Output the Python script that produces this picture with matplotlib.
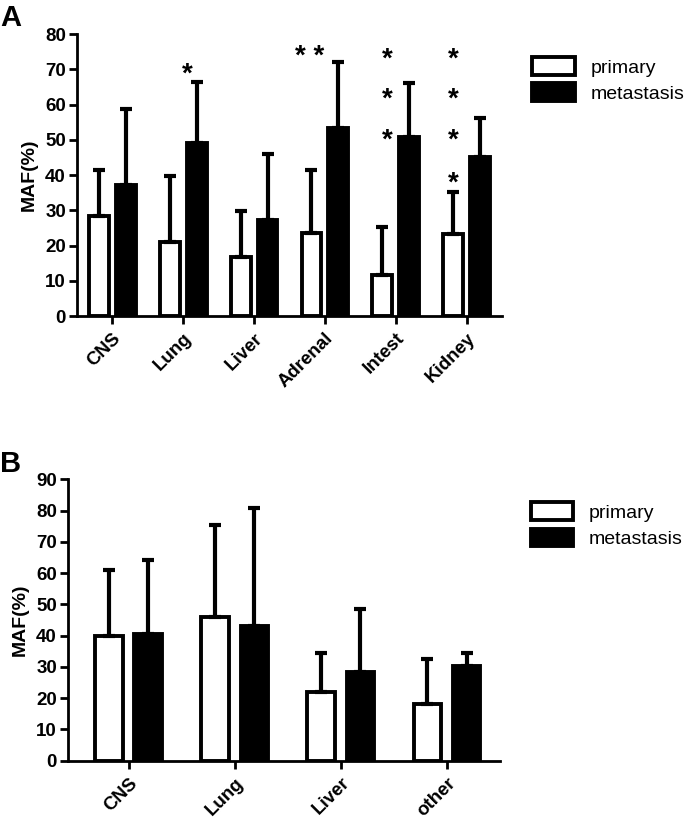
import matplotlib
matplotlib.use('Agg')
import matplotlib.pyplot as plt
import numpy as np

plt.rcParams['font.family'] = ['Liberation Sans', 'DejaVu Sans']

# panel A
cats_a = ['CNS', 'Lung', 'Liver', 'Adrenal', 'Intest', 'Kidney']
prim_a = [28.4, 21.1, 16.7, 23.5, 11.6, 23.2]
prim_a_err = [13.0, 18.7, 13.2, 17.9, 13.7, 12.1]
meta_a = [37.2, 49.2, 27.2, 53.2, 50.9, 45.2]
meta_a_err = [21.4, 17.1, 18.9, 18.8, 15.3, 11.1]
# significance marks: (category index, bar offset, y value, text)
stars_a = [(1, 0.06, 68.5, '*'), (3, -0.21, 73.5, '* *'),
           (4, -0.12, 72.6, '*'), (4, -0.12, 61.3, '*'), (4, -0.12, 49.9, '*'),
           (5, -0.19, 72.6, '*'), (5, -0.19, 61.3, '*'), (5, -0.19, 49.9, '*'),
           (5, -0.19, 37.7, '*')]

# panel B
cats_b = ['CNS', 'Lung', 'Liver', 'other']
prim_b = [40.0, 45.9, 21.9, 18.1]
prim_b_err = [21.0, 29.5, 12.6, 14.5]
meta_b = [40.5, 43.2, 28.3, 30.3]
meta_b_err = [23.7, 37.6, 20.1, 4.2]

fig = plt.figure(figsize=(6.85, 8.26), dpi=100)
ax1 = fig.add_axes([0.1124, 0.6174, 0.6205, 0.3414])
ax2 = fig.add_axes([0.0993, 0.0791, 0.6307, 0.3406])


def draw(ax, cats, prim, perr, meta, merr, ymax, off, w, xlim):
    x = np.arange(len(cats))
    ek = dict(elinewidth=3, capsize=4.5, capthick=3, ecolor='black')
    ax.bar(x - off, prim, w, color='white', edgecolor='black', linewidth=2.8,
           yerr=[np.zeros(len(cats)), perr], error_kw=ek, label='primary', zorder=2)
    ax.bar(x + off, meta, w, color='black', edgecolor='black', linewidth=2.8,
           yerr=[np.zeros(len(cats)), merr], error_kw=ek, label='metastasis', zorder=2)
    ax.set_xlim(*xlim)
    ax.set_ylim(0, ymax)
    ax.set_yticks(np.arange(0, ymax + 1, 10))
    ax.set_xticks(x)
    ax.set_xticklabels(cats, rotation=45, ha='right', rotation_mode='anchor',
                       fontsize=13.5, fontweight='bold')
    for lb in ax.get_yticklabels():
        lb.set_fontweight('bold')
        lb.set_fontsize(13.5)
    ax.set_ylabel('MAF(%)', fontsize=14, fontweight='bold', labelpad=5)
    for s in ['top', 'right']:
        ax.spines[s].set_visible(False)
    for s in ['left', 'bottom']:
        ax.spines[s].set_linewidth(2)
    ax.tick_params(width=2, length=6)
    ax.tick_params(axis='x', pad=4)
    ax.tick_params(axis='y', pad=2)
    ax.legend(loc='upper left', bbox_to_anchor=(1.03, 0.98), frameon=False,
              fontsize=14, handlelength=2.2, handleheight=1.0, labelspacing=0.35,
              handletextpad=0.8)


draw(ax1, cats_a, prim_a, prim_a_err, meta_a, meta_a_err, 80, 0.19, 0.28, (-0.5, 5.5))
draw(ax2, cats_b, prim_b, prim_b_err, meta_b, meta_b_err, 90, 0.185, 0.26, (-0.57, 3.5))

for i, dx, y, t in stars_a:
    ax1.text(i + dx, y, t, ha='center', va='center', fontsize=20, fontweight='bold')

fig.text(0.0, 0.995, 'A', fontsize=21, fontweight='bold', va='top')
fig.text(0.0, 0.455, 'B', fontsize=21, fontweight='bold', va='top')

fig.savefig('out.png', dpi=100)
